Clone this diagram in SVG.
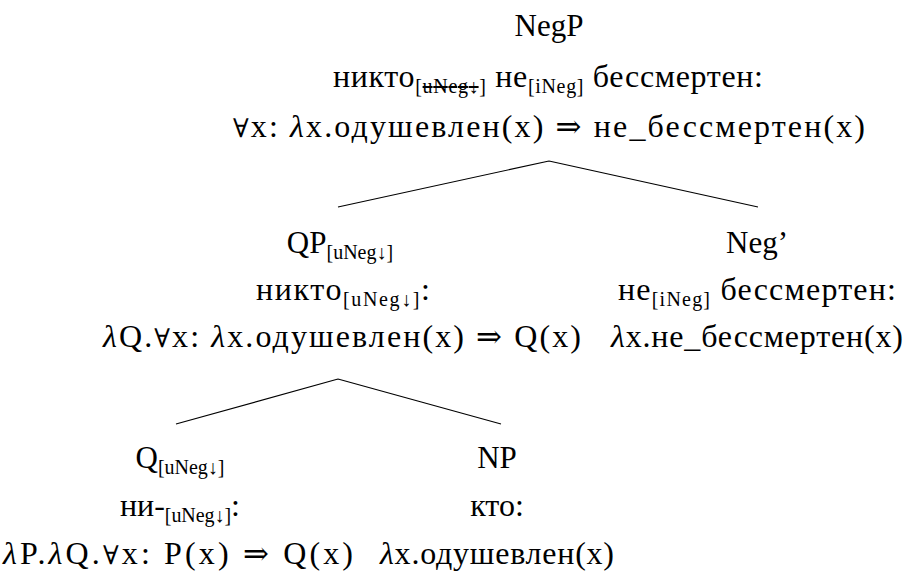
<svg xmlns="http://www.w3.org/2000/svg" width="906" height="578" viewBox="0 0 906 578">
  <style>
    text { font-family: "Liberation Serif", "Times New Roman", serif; fill: #000; text-anchor: middle; }
    .lab { font-size: 31px; }
    .row { font-size: 32px; }
    .sub { font-size: 20px; }
    .lam { font-style: italic; }
    .sym { font-family: "DejaVu Serif", serif; font-size: 26px; }
    .imp { font-family: "DejaVu Serif", serif; font-size: 31px; }
    .strike { text-decoration: line-through; }
    .edge { stroke: #000; stroke-width: 1.2; fill: none; }
  </style>
  <rect width="906" height="578" fill="#fff"/>

  <!-- tree edges -->
  <g id="connectors">
    <path class="edge" d="M549 161 L338 207 M549 161 L758 207"/>
    <path class="edge" d="M338 379 L176 424 M338 379 L501 424"/>
  </g>

  <!-- root -->
  <g id="negp">
    <text class="lab" x="549" y="36">NegP</text>
    <text class="row" x="548" y="87" textLength="430" lengthAdjust="spacing">никто<tspan class="sub" dy="6">[<tspan class="strike">uNeg↓</tspan>]</tspan><tspan dy="-6"> не</tspan><tspan class="sub" dy="6">[iNeg]</tspan><tspan dy="-6"> бессмертен:</tspan></text>
    <text class="row" x="549" y="137" textLength="632" lengthAdjust="spacing"><tspan class="sym">∀</tspan>x: <tspan class="lam">λ</tspan>x.одушевлен(x) <tspan class="imp">⇒</tspan> не_бессмертен(x)</text>
  </g>

  <!-- left daughter -->
  <g id="qp">
    <text class="lab" x="340" y="253">QP<tspan class="sub" dy="6">[uNeg↓]</tspan></text>
    <text class="row" x="343" y="300" textLength="174" lengthAdjust="spacing">никто<tspan class="sub" dy="6">[uNeg↓]</tspan><tspan dy="-6">:</tspan></text>
    <text class="row" x="342" y="347" textLength="478" lengthAdjust="spacing"><tspan class="lam">λ</tspan>Q.<tspan class="sym">∀</tspan>x: <tspan class="lam">λ</tspan>x.одушевлен(x) <tspan class="imp">⇒</tspan> Q(x)</text>
  </g>

  <!-- right daughter -->
  <g id="negbar">
    <text class="lab" x="757" y="253">Neg’</text>
    <text class="row" x="757" y="300" textLength="278" lengthAdjust="spacing">не<tspan class="sub" dy="6">[iNeg]</tspan><tspan dy="-6"> бессмертен:</tspan></text>
    <text class="row" x="757" y="347" textLength="292" lengthAdjust="spacing"><tspan class="lam">λ</tspan>x.не_бессмертен(x)</text>
  </g>

  <!-- quantifier head -->
  <g id="q">
    <text class="lab" x="180" y="468">Q<tspan class="sub" dy="6">[uNeg↓]</tspan></text>
    <text class="row" x="180" y="516" textLength="120" lengthAdjust="spacing">ни-<tspan class="sub" dy="6">[uNeg↓]</tspan><tspan dy="-6">:</tspan></text>
    <text class="row" x="178" y="564" textLength="350" lengthAdjust="spacing"><tspan class="lam">λ</tspan>P.<tspan class="lam">λ</tspan>Q.<tspan class="sym">∀</tspan>x: P(x) <tspan class="imp">⇒</tspan> Q(x)</text>
  </g>

  <!-- noun phrase -->
  <g id="np">
    <text class="lab" x="497" y="468">NP</text>
    <text class="row" x="497" y="516">кто:</text>
    <text class="row" x="497" y="564" textLength="234" lengthAdjust="spacing"><tspan class="lam">λ</tspan>x.одушевлен(x)</text>
  </g>
</svg>
